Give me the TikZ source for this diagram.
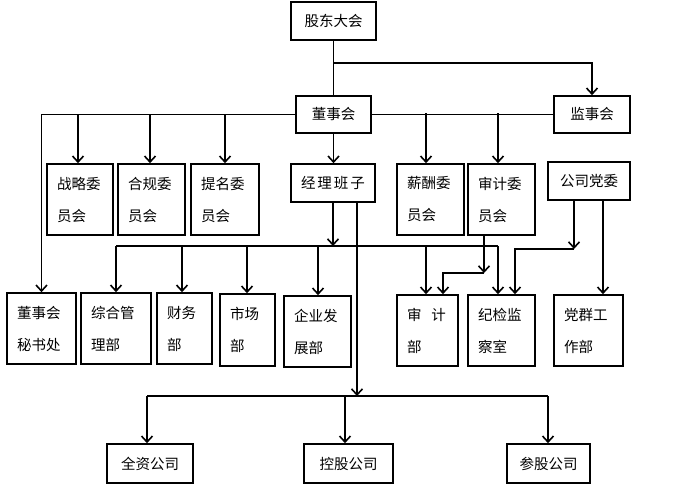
\documentclass[tikz,border=0pt]{standalone}
\usepackage{fontspec}
\newfontfamily\cjk{Noto Sans CJK SC}
\usetikzlibrary{arrows.meta}
\begin{document}
\begin{tikzpicture}[x=1pt,y=-1pt,
  line width=1.6pt,
  >={Straight Barb[length=6pt,width=11pt]},
  box/.style={draw, inner sep=0pt, font=\cjk\fontsize{14.5}{32}\selectfont},
  tl/.style={box, align=left}]
\useasboundingbox (0,0) rectangle (692,499);
% top
\node[box,minimum width=85,minimum height=38] (gd) at (333.5,21) {股东大会};
\node[box,minimum width=75,minimum height=37] (dsh) at (333.5,114.5) {董事会};
\node[box,minimum width=76,minimum height=37] (jsh) at (592,114.5) {监事会};
% committees
\node[tl,minimum width=66,minimum height=71,text width=46] (zl) at (80,199.5) {战略委\\员会};
\node[tl,minimum width=67,minimum height=71,text width=47] (hg) at (151.5,199.5) {合规委\\员会};
\node[tl,minimum width=68,minimum height=71,text width=48] (tm) at (225,199.5) {提名委\\员会};
\node[box,minimum width=84,minimum height=38] (jl) at (333,183) {经\kern2pt 理\kern2pt 班\kern2pt 子};
\node[tl,minimum width=67,minimum height=71,text width=47] (xc) at (430.5,199.5) {薪酬委\\员会};
\node[tl,minimum width=67,minimum height=71,text width=47] (sj) at (501.5,199.5) {审计委\\员会};
\node[box,minimum width=82,minimum height=38] (dw) at (589,181) {公司党委};
% departments
\node[tl,minimum width=69,minimum height=71,text width=49] (ms) at (41.5,328.5) {董事会\\秘书处};
\node[tl,minimum width=70,minimum height=71,text width=50] (zh) at (116,328.5) {综合管\\理部};
\node[tl,minimum width=55,minimum height=71,text width=35] (cw) at (184.5,328.5) {财务\\部};
\node[tl,minimum width=55,minimum height=72,text width=35] (sc) at (247.5,330) {市场\\部};
\node[tl,minimum width=67,minimum height=71,text width=47] (qy) at (317.5,331.5) {企业发\\展部};
\node[tl,minimum width=61,minimum height=71,text width=41] (sjb) at (427.5,330.5) {审\kern10pt 计\\部};
\node[tl,minimum width=67,minimum height=71,text width=47] (jj) at (501.5,330.5) {纪检监\\察室};
\node[tl,minimum width=69,minimum height=71,text width=49] (dq) at (588.5,330.5) {党群工\\作部};
% companies
\node[box,minimum width=86,minimum height=39] (qz) at (150,463.5) {全资公司};
\node[box,minimum width=89,minimum height=39] (kg) at (348.5,463.5) {控股公司};
\node[box,minimum width=83,minimum height=39] (cg) at (548.5,463.5) {参股公司};
% coordinates
\coordinate (s1) at (334,63);
\coordinate (r1) at (426,113);
\coordinate (r2) at (498,113);
\coordinate (l1) at (78,114.5);
\coordinate (l2) at (150,114.5);
\coordinate (l3) at (225,114.5);
\coordinate (mL) at (116,246);
\coordinate (m2) at (182,246);
\coordinate (m3) at (247,246);
\coordinate (m4) at (318,246);
\coordinate (m5) at (426,246);
\coordinate (mR) at (498,246);
\coordinate (bt) at (357,396);
\coordinate (bL) at (147,396);
\coordinate (bM) at (345,396);
\coordinate (bR) at (548,396);
\coordinate (a1) at (484,273);
\coordinate (a2) at (443,273);
\coordinate (p1) at (574,249);
\coordinate (p2) at (515,249);
\coordinate (p3) at (603,249);
% connectors
\draw (gd.south) -- (dsh.north);
\draw[->] (s1) -| (jsh.north);
\draw (dsh.east) -- (jsh.west);
\draw[->] (r1) -- (r1 |- xc.north);
\draw[->] (r2) -- (r2 |- sj.north);
\draw[->] (dsh.west) -| (ms.north);
\draw[->] (l1) -- (l1 |- zl.north);
\draw[->] (l2) -- (l2 |- hg.north);
\draw[->] (l3) -- (l3 |- tm.north);
\draw[->] (dsh.south) -- (dsh.south |- jl.north);
\draw[->] (jl.south) -- (jl.south |- mL);
\draw (mL) -- (mR);
\draw[->] (mL) -- (mL |- zh.north);
\draw[->] (m2) -- (m2 |- cw.north);
\draw[->] (m3) -- (m3 |- sc.north);
\draw[->] (m4) -- (m4 |- qy.north);
\draw[->] (m5) -- (m5 |- sjb.north);
\draw[->] (mR) -- (mR |- jj.north);
\draw[->] (jl.south -| bt) -- (bt);
\draw (bL) -- (bR);
\draw[->] (bL) -- (bL |- qz.north);
\draw[->] (bM) -- (bM |- kg.north);
\draw[->] (bR) -- (bR |- cg.north);
\draw[->] (sj.south -| a1) -- (a1);
\draw[->] (a1) -- (a2) -- (a2 |- sjb.north);
\draw[->] (dw.south -| p1) -- (p1);
\draw[->] (p1) -- (p2) -- (p2 |- jj.north);
\draw[->] (dw.south -| p3) -- (p3 |- dq.north);
\end{tikzpicture}
\end{document}
